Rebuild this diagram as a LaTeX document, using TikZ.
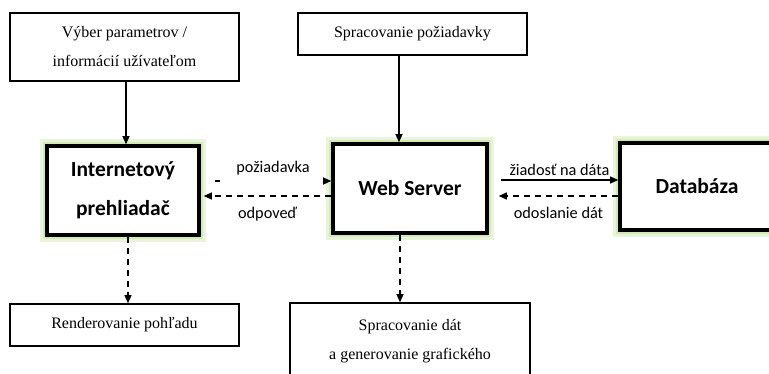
\documentclass[tikz,border=0pt]{standalone}
\usepackage{fontspec}
\setmainfont{Liberation Serif}
\newfontfamily\calibri{Carlito}
\usetikzlibrary{arrows.meta}

\definecolor{glowgreen}{HTML}{EAF4DC}
\definecolor{glowedge}{HTML}{D3E9B6}

\begin{document}
\begin{tikzpicture}[x=1pt,y=-1pt,
  stepbox/.style={draw,line width=1.6pt,minimum width=229pt,align=center,
    font=\fontsize{16}{29}\selectfont},
  mainbox/.style={draw,fill=white,line width=3.6pt,minimum width=152pt,minimum height=89pt,align=center,
    font=\calibri\bfseries\fontsize{21.5}{39}\selectfont,
    preaction={draw=glowgreen,line width=14pt},
    preaction={draw=glowedge,line width=8pt}},
  flow/.style={line width=1.3pt,-{Triangle[length=8pt,width=7pt]}},
  back/.style={flow,dash pattern=on 6pt off 5pt},
  lbl/.style={font=\calibri\fontsize{16.3}{18}\selectfont}]
\clip (0,0) rectangle (769,373);
\fill[white] (0,0) rectangle (769,373);
% boxes
\node[stepbox,minimum height=68pt] (vyber) at (124.5,47) {Výber parametrov /\\informácií užívateľom};
\node[stepbox,minimum height=42pt] (poziad) at (412.5,34) {Spracovanie požiadavky};
\node[mainbox] (browser) at (123,190.5) {Internetový\\prehliadač};
\node[mainbox,minimum width=154pt] (server) at (410,188.5) {Web Server};
\node[mainbox,minimum width=154pt,minimum height=87pt] (db) at (697,186.5) {Databáza};
\node[stepbox,minimum height=42pt] (render) at (124.5,325) {Renderovanie pohľadu};
\node[stepbox,minimum width=240pt,minimum height=77pt] (spracdat) at (410,341.5) {Spracovanie dát\\a generovanie grafického};
% connectors
\draw[flow] ([xshift=1.5pt]vyber.south) -- ([xshift=1.5pt]vyber.south |- browser.north);
\draw[flow] ([xshift=-13.5pt]poziad.south) -- ([xshift=-13.5pt]poziad.south |- server.north);
\draw[back] ([xshift=5pt]browser.south) -- ([xshift=5pt]browser.south |- render.north);
\draw[back] ([xshift=-10pt]server.south) -- ([xshift=-10pt]server.south |- spracdat.north);
\draw[flow,dash pattern=on 5pt off 300pt] ([xshift=14pt,yshift=9.5pt]browser.east) -- ([yshift=7.5pt]server.west)
  node[lbl,midway,above=2pt] {požiadavka};
\draw[back] ([yshift=-7.5pt]server.west) -- ([xshift=3pt,yshift=-5.5pt]browser.east)
  node[lbl,midway,below=7pt] {odpoveď};
\draw[flow] ([xshift=12pt,yshift=8.5pt]server.east) -- ([yshift=6.5pt]db.west)
  node[lbl,midway,above=0pt] {žiadosť na dáta};
\draw[back] ([yshift=-9.5pt]db.west) -- ([xshift=10pt,yshift=-7.5pt]server.east)
  node[lbl,midway,below=7pt] {odoslanie dát};
\end{tikzpicture}
\end{document}
